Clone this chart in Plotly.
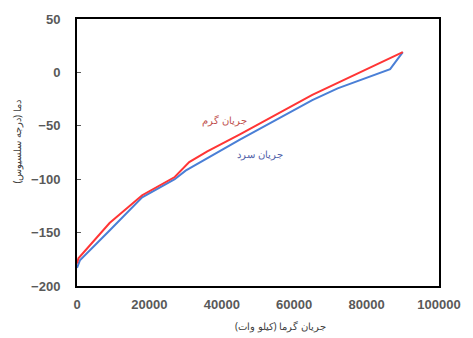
import plotly.graph_objects as go

hot_x = [0, 400, 9000, 18000, 27000, 31000, 36000, 45000, 65000, 78000, 90000]
hot_y = [-179, -174, -141, -115, -98, -84, -74, -58, -21, 0, 19]

cold_x = [0, 800, 9000, 18000, 27000, 30000, 45000, 65000, 72000, 80000, 86500, 90000]
cold_y = [-183, -176, -148, -117, -100, -92, -63, -26, -15, -5, 3, 19]

hot_label = "جریان گرم"
cold_label = "جریان سرد"
x_title = "جریان گرما (کیلو وات)"
y_title = "دما (درجه سلسیوس)"

x_ticks = [0, 20000, 40000, 60000, 80000, 100000]
y_ticks = [-200, -150, -100, -50, 0, 50]

fig = go.Figure()
fig.add_trace(go.Scatter(x=cold_x, y=cold_y, mode="lines",
                         line=dict(color="#4a7fd6", width=2), showlegend=False))
fig.add_trace(go.Scatter(x=hot_x, y=hot_y, mode="lines",
                         line=dict(color="#ff3535", width=2), showlegend=False))

tickfont = dict(family="Liberation Sans", size=13, color="#595959", weight="bold")

fig.update_layout(
    width=473, height=338,
    margin=dict(l=77, r=22, t=16, b=52),
    paper_bgcolor="white", plot_bgcolor="white",
    xaxis=dict(range=[0, 100000], tickvals=x_ticks, ticktext=[str(v) for v in x_ticks],
               showgrid=False, zeroline=False, showline=True, linecolor="black",
               linewidth=2, mirror=True, ticks="", tickfont=tickfont,
               ticklabelstandoff=5),
    yaxis=dict(range=[-200, 50], tickvals=y_ticks, showgrid=False, zeroline=False,
               showline=True, linecolor="black", linewidth=2, mirror=True,
               ticks="inside", ticklen=4, tickcolor="#595959", tickfont=tickfont,
               ticklabelstandoff=12),
    annotations=[
        dict(text=hot_label, x=229, y=118, font=dict(family="Noto Sans", size=10, color="#c0504d")),
        dict(text=cold_label, x=266, y=153, font=dict(family="Noto Sans", size=10, color="#5060a8")),
        dict(text=x_title, x=287, y=326, font=dict(family="Noto Sans", size=10, color="#404040")),
        dict(text=y_title, x=15, y=140, textangle=-90,
             font=dict(family="Noto Sans", size=10, color="#404040")),
    ],
)

# convert pixel positions of annotations into paper coords
pl, pr, pt, pb = 77, 473 - 22, 16, 338 - 52
for a in fig.layout.annotations:
    px, py = a.x, a.y
    a.x = (px - pl) / (pr - pl)
    a.y = (pb - py) / (pb - pt)
    a.xref = "paper"
    a.yref = "paper"
    a.showarrow = False
    a.xanchor = "center"
    a.yanchor = "middle"

fig.write_html("out.html")
